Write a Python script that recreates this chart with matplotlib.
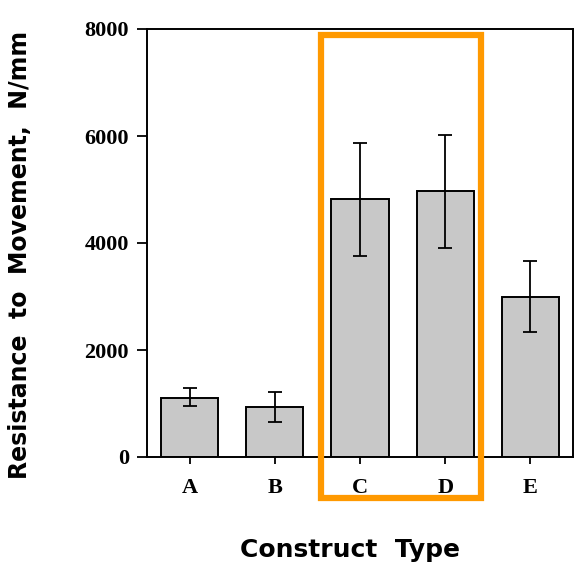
import matplotlib
matplotlib.use('Agg')
import matplotlib.pyplot as plt
from matplotlib.patches import Rectangle

# values
constructs = ['A', 'B', 'C', 'D', 'E']
resistance = [1110, 935, 4820, 4970, 3000]
err_upper = [180, 280, 1055, 1055, 670]
err_lower = [160, 280, 1060, 1060, 670]
y_ticks = [0, 2000, 4000, 6000, 8000]

fig = plt.figure(figsize=(5.75, 5.65), dpi=100)
ax = fig.add_axes([147 / 575, 1 - 457 / 565, 426 / 575, 428 / 565])

x = range(len(constructs))
ax.bar(x, resistance, width=0.67, color='#c8c8c8', edgecolor='black', linewidth=1.4,
       yerr=[err_lower, err_upper], capsize=5,
       error_kw={'elinewidth': 1.3, 'capthick': 1.3, 'ecolor': 'black'})

ax.set_xlim(-0.5, 4.5)
ax.set_ylim(0, 8000)
ax.set_xticks(list(x))
ax.set_xticklabels(constructs)
ax.set_yticks(y_ticks)
ax.set_yticklabels([str(t) for t in y_ticks])

for lab in ax.get_xticklabels() + ax.get_yticklabels():
    lab.set_family('Liberation Serif')
    lab.set_fontweight('bold')
    lab.set_fontsize(16)

ax.tick_params(axis='y', direction='out', length=7, width=1.3, pad=6)
ax.tick_params(axis='x', direction='out', length=5, width=1.3, pad=10)
for s in ax.spines.values():
    s.set_linewidth(1.4)

ax.set_xlabel('Construct  Type', fontsize=18, fontweight='bold', family='DejaVu Sans')
ax.xaxis.set_label_coords(0.477, -0.19)
ax.xaxis.label.set_va('top')
ax.set_ylabel('Resistance  to  Movement,  N/mm', fontsize=17, fontweight='bold',
              family='DejaVu Sans')
ax.yaxis.set_label_coords(-0.27, 0.472)

# orange highlight box round C and D
fig.patches.append(Rectangle((321 / 575, 1 - 498 / 565), 160 / 575, 463 / 565,
                             transform=fig.transFigure, fill=False,
                             edgecolor='#ff9900', linewidth=4.5, zorder=10))

plt.savefig('out.png', dpi=100)
